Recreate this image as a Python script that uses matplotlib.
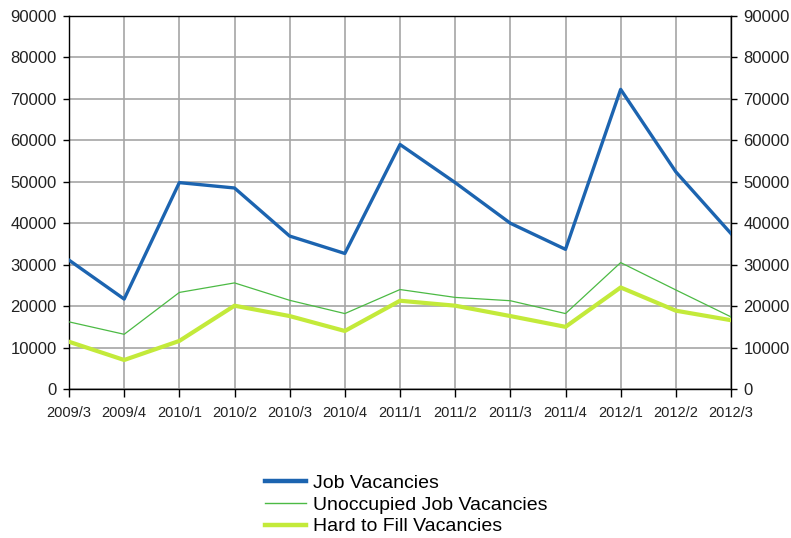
import matplotlib
matplotlib.use("Agg")
import matplotlib.pyplot as plt

quarters = ["2009/3", "2009/4", "2010/1", "2010/2", "2010/3", "2010/4", "2011/1",
            "2011/2", "2011/3", "2011/4", "2012/1", "2012/2", "2012/3"]
job_vacancies = [31100, 21700, 49800, 48500, 36900, 32700, 59000, 49800, 40000,
                 33700, 72300, 52400, 37500]
unoccupied = [16200, 13200, 23300, 25600, 21400, 18200, 24000, 22100, 21300,
              18200, 30500, 23900, 17400]
hard_to_fill = [11400, 7000, 11600, 20100, 17600, 14000, 21300, 20100, 17600,
                15000, 24500, 18900, 16600]
yticks = list(range(0, 90001, 10000))

plt.rcParams['font.family'] = ['Liberation Sans', 'DejaVu Sans']

fig = plt.figure(figsize=(7.91, 5.38), dpi=100)
ax = fig.add_axes([69/791, 1-389/538, (731-69)/791, (389-16)/538])
x = list(range(len(quarters)))

ax.plot(x, job_vacancies, color="#1c64b0", lw=2.4, label="Job Vacancies", zorder=5)
ax.plot(x, unoccupied, color="#4cba44", lw=0.9, label="Unoccupied Job Vacancies", zorder=4)
ax.plot(x, hard_to_fill, color="#c3ea3a", lw=3.0, label="Hard to Fill Vacancies", zorder=3)

ax.set_xlim(0, len(quarters)-1)
ax.set_ylim(0, 90000)
ax.set_xticks(x)
ax.set_xticklabels(quarters, fontsize=10.5)
ax.set_yticks(yticks)
ax.set_yticklabels([str(v) for v in yticks], fontsize=12)
ax.grid(True, color="#a6a6a6", lw=1.2)
ax.set_axisbelow(True)
for s in ax.spines.values():
    s.set_color("black")
    s.set_linewidth(1.0)
ax.tick_params(axis='both', direction='out', width=1, colors='black',
               labelcolor='#222222')
ax.tick_params(axis='y', length=4, pad=5, right=True, labelright=True)
ax.tick_params(axis='x', length=6, pad=6)

leg = fig.legend(loc='upper left', bbox_to_anchor=(265/791, 1-474/538), frameon=False,
                 fontsize=14, handlelength=2.1, handletextpad=0.35, labelspacing=0.22,
                 borderaxespad=0, borderpad=0)
for h, w in zip(leg.get_lines(), [3.2, 1.0, 3.2]):
    h.set_linewidth(w)

fig.savefig("out.png", dpi=100)
